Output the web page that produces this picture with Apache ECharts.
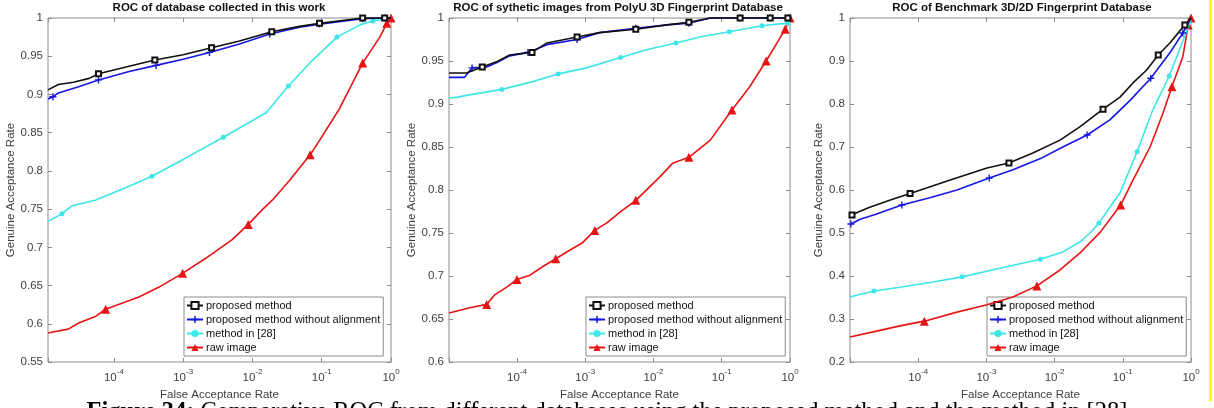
<!DOCTYPE html>
<html>
<head>
<meta charset="utf-8">
<script src="https://cdn.jsdelivr.net/npm/echarts@6/dist/echarts.min.js"></script>
<style>
  html, body { margin: 0; padding: 0; background: #fff; }
  #chart { width: 1214px; height: 408px; }
</style>
</head>
<body>
<div id="chart"></div>
<script>
// ---- data: [FAR, GAR] pairs, plus marker indices ----
var seriesNames = ['proposed method', 'proposed method without alignment', 'method in [28]', 'raw image'];
var panelTitles = [
  'ROC of database collected in this work',
  'ROC of sythetic images from PolyU 3D Fingerprint Database',
  'ROC of Benchmark 3D/2D Fingerprint Database'
];
var xMin = [1.12e-5, 1.01e-5, 1.0e-5];
var yMin = [0.55, 0.6, 0.2];
var yStep = [0.05, 0.05, 0.1];

// panel 1
var p1Proposed = [[1.12e-5,0.906],[1.58e-5,0.913],[2.6e-5,0.916],[4.4e-5,0.921],[6.0e-5,0.927],[1.66e-4,0.937],[3.9e-4,0.945],[1.0e-3,0.952],[2.57e-3,0.961],[6.5e-3,0.970],[0.019,0.982],[0.048,0.989],[0.093,0.993],[0.39,1.0],[0.81,1.0],[1,1]];
var p1ProposedMk = [4,6,8,10,12,13,14];
var p1NoAlign = [[1.12e-5,0.894],[1.32e-5,0.897],[1.58e-5,0.902],[3.1e-5,0.910],[6.0e-5,0.919],[1.66e-4,0.930],[4.07e-4,0.938],[1.0e-3,0.946],[2.4e-3,0.955],[6.5e-3,0.966],[0.0178,0.979],[0.048,0.988],[0.093,0.992],[0.39,0.999],[0.81,1.0],[1,1]];
var p1NoAlignMk = [1,4,6,8,10,12,13,14];
var p1M28 = [[1.12e-5,0.734],[1.78e-5,0.744],[2.45e-5,0.754],[5.5e-5,0.762],[1.66e-4,0.780],[3.55e-4,0.793],[1.0e-3,0.815],[3.8e-3,0.844],[0.0158,0.876],[0.033,0.911],[0.074,0.945],[0.166,0.975],[0.355,0.991],[0.55,0.996],[1,1]];
var p1M28Mk = [1,5,7,9,11,13];
var p1Raw = [[1.12e-5,0.588],[2.2e-5,0.593],[3.1e-5,0.601],[5.5e-5,0.610],[7.6e-5,0.619],[2.3e-4,0.635],[4.5e-4,0.648],[9.8e-4,0.666],[2.14e-3,0.686],[5.1e-3,0.710],[8.7e-3,0.730],[0.0138,0.749],[0.0195,0.762],[0.0347,0.788],[0.068,0.821],[0.093,0.840],[0.182,0.882],[0.39,0.941],[0.69,0.975],[0.87,0.993],[1,1]];
var p1RawMk = [4,7,10,14,17,19,20];

// panel 2
var p2Proposed = [[1.01e-5,0.936],[1.82e-5,0.936],[3.1e-5,0.943],[5.0e-5,0.949],[7.8e-5,0.957],[1.66e-4,0.960],[2.75e-4,0.971],[7.6e-4,0.978],[1.62e-3,0.983],[5.5e-3,0.987],[0.0158,0.992],[0.033,0.995],[0.068,1.0],[0.186,1.0],[0.513,1.0],[0.93,1.0],[1,1]];
var p2ProposedMk = [2,5,7,9,11,13,14,15];
var p2NoAlign = [[1.01e-5,0.931],[1.7e-5,0.931],[2.2e-5,0.942],[3.6e-5,0.943],[5.0e-5,0.948],[7.8e-5,0.956],[1.45e-4,0.960],[2.75e-4,0.969],[7.6e-4,0.975],[1.62e-3,0.983],[5.5e-3,0.988],[0.0158,0.992],[0.033,0.994],[0.068,1.0],[0.186,1.0],[0.513,1.0],[0.93,1.0],[1,1]];
var p2NoAlignMk = [2,6,8,10,12,14,15,16];
var p2M28 = [[1.01e-5,0.907],[1.35e-5,0.908],[1.82e-5,0.910],[6.0e-5,0.917],[1.7e-4,0.926],[4.0e-4,0.935],[1.05e-3,0.942],[3.3e-3,0.954],[7.9e-3,0.963],[0.0214,0.971],[0.048,0.978],[0.129,0.984],[0.39,0.991],[0.93,0.994],[1,0.995]];
var p2M28Mk = [3,5,7,9,11,12,13];
var p2Raw = [[1.01e-5,0.657],[2.04e-5,0.663],[3.6e-5,0.667],[4.7e-5,0.678],[7.1e-5,0.687],[1e-4,0.696],[1.55e-4,0.701],[2.4e-4,0.711],[3.7e-4,0.720],[5.9e-4,0.730],[8.9e-4,0.738],[1.38e-3,0.753],[2.1e-3,0.762],[3.2e-3,0.774],[5.5e-3,0.788],[0.0123,0.815],[0.019,0.831],[0.033,0.838],[0.068,0.858],[0.141,0.893],[0.257,0.920],[0.447,0.950],[0.646,0.971],[0.85,0.987],[1,1]];
var p2RawMk = [2,5,8,11,14,17,19,21,23,24];

// panel 3
var p3Proposed = [[1.0e-5,0.538],[1.07e-5,0.542],[1.32e-5,0.549],[1.95e-5,0.560],[3.9e-5,0.577],[7.6e-5,0.592],[2.95e-4,0.623],[1.02e-3,0.651],[2.14e-3,0.663],[4.8e-3,0.686],[0.012,0.716],[0.0234,0.747],[0.0513,0.788],[0.091,0.816],[0.141,0.849],[0.224,0.879],[0.331,0.914],[0.49,0.942],[0.813,0.984],[1,1]];
var p3ProposedMk = [1,5,8,12,16,18];
var p3NoAlign = [[1.03e-5,0.521],[1.41e-5,0.532],[2.34e-5,0.543],[5.75e-5,0.565],[1.48e-4,0.582],[3.7e-4,0.600],[1.1e-3,0.628],[2.45e-3,0.647],[6.2e-3,0.673],[0.0132,0.700],[0.030,0.728],[0.0646,0.763],[0.129,0.809],[0.257,0.860],[0.49,0.919],[0.759,0.965],[1,1]];
var p3NoAlignMk = [0,3,6,10,13,15];
var p3M28 = [[1.0e-5,0.351],[2.24e-5,0.365],[5.4e-5,0.374],[1.66e-4,0.386],[4.4e-4,0.398],[1.58e-3,0.418],[6.2e-3,0.439],[0.0132,0.456],[0.0234,0.479],[0.033,0.500],[0.0447,0.523],[0.0646,0.560],[0.091,0.593],[0.162,0.689],[0.275,0.786],[0.479,0.865],[0.741,0.942],[1,0.995]];
var p3M28Mk = [1,4,6,10,13,15];
var p3Raw = [[1.0e-5,0.258],[2.19e-5,0.270],[5.4e-5,0.284],[1.23e-4,0.295],[3.7e-4,0.316],[1.02e-3,0.333],[2.45e-3,0.351],[5.5e-3,0.377],[0.012,0.414],[0.0234,0.453],[0.0468,0.502],[0.093,0.565],[0.141,0.623],[0.251,0.700],[0.389,0.779],[0.525,0.840],[0.759,0.910],[0.912,0.984],[1,1]];
var p3RawMk = [3,7,11,15,17,18];

var panels = [
  [[p1Proposed, p1ProposedMk], [p1NoAlign, p1NoAlignMk], [p1M28, p1M28Mk], [p1Raw, p1RawMk]],
  [[p2Proposed, p2ProposedMk], [p2NoAlign, p2NoAlignMk], [p2M28, p2M28Mk], [p2Raw, p2RawMk]],
  [[p3Proposed, p3ProposedMk], [p3NoAlign, p3NoAlignMk], [p3M28, p3M28Mk], [p3Raw, p3RawMk]]
];

// ---- looks ----
var FONT = '"Liberation Sans", Arial, sans-serif';
var SERIF = '"Liberation Serif", "Times New Roman", serif';
var AXC = '#8c8c8c';
var TXC = '#404040';
var gridBox = [
  { left: 48, top: 18, width: 343, height: 344 },
  { left: 449, top: 18, width: 341, height: 344 },
  { left: 850, top: 18, width: 341, height: 344 }
];
var titleX = [219, 618, 1022];
var yNameGap = [25, 24, 19];
var legendPos = [[184, 297], [586, 297], [987, 297]];
var looks = [
  { color: '#111111', symbol: 'emptyRect', size: 5 },
  { color: '#1616e0', symbol: 'path://M4,0H6V4H10V6H6V10H4V6H0V4H4Z', size: 7 },
  { color: '#3ce6e6', symbol: 'circle', size: 5 },
  { color: '#e81414', symbol: 'triangle', size: 9 }
];

function xLabel(v) {
  var l = Math.log(v) / Math.LN10;
  var e = Math.round(l);
  if (Math.abs(l - e) > 1e-6 || e < -4) return '';
  return '{b|10}{s|' + e + '}';
}

var grids = [], xAxes = [], yAxes = [], titles = [], legends = [], series = [];
gridBox.forEach(function (g, i) {
  grids.push({ left: g.left, top: g.top, width: g.width, height: g.height, show: true, borderColor: AXC, borderWidth: 1, backgroundColor: '#fff' });
  titles.push({
    text: panelTitles[i], left: titleX[i], top: 2, textAlign: 'center', padding: 0,
    textStyle: { fontFamily: FONT, fontSize: 11.5, fontWeight: 'bold', color: '#111' }
  });
  legends.push({
    data: seriesNames, orient: 'vertical', left: legendPos[i][0], top: legendPos[i][1],
    itemWidth: 16, itemHeight: 9, itemGap: 1, padding: [2, 3, 2, 2],
    borderColor: AXC, borderWidth: 1, backgroundColor: '#fff', selectedMode: false,
    textStyle: { fontFamily: FONT, fontSize: 11, lineHeight: 13, color: '#111', padding: [0, 0, 0, -2] }
  });
});
// bottom / left axes carry the data, top / right ones only add MATLAB-like ticks
for (var i = 0; i < 3; i++) {
  xAxes.push({
    gridIndex: i, type: 'log', logBase: 10, min: xMin[i], max: 1, position: 'bottom',
    name: 'False Acceptance Rate', nameLocation: 'middle', nameGap: 23,
    nameTextStyle: { fontFamily: FONT, fontSize: 11.5, color: TXC },
    axisLine: { show: false }, splitLine: { show: false },
    axisTick: { inside: true, length: 4, lineStyle: { color: AXC } },
    axisLabel: {
      margin: 6, formatter: xLabel, showMinLabel: true, showMaxLabel: true,
      rich: {
        b: { fontFamily: FONT, fontSize: 11.5, color: TXC, verticalAlign: 'bottom', lineHeight: 16 },
        s: { fontFamily: FONT, fontSize: 8, color: TXC, verticalAlign: 'top', lineHeight: 16 }
      }
    }
  });
  yAxes.push({
    gridIndex: i, type: 'value', min: yMin[i], max: 1, interval: yStep[i], position: 'left',
    name: 'Genuine Acceptance Rate', nameLocation: 'middle', nameGap: yNameGap[i],
    nameTextStyle: { fontFamily: FONT, fontSize: 11.5, color: TXC },
    axisLine: { show: false }, splitLine: { show: false },
    axisTick: { inside: true, length: 4, lineStyle: { color: AXC } },
    axisLabel: {
      margin: 5, fontFamily: FONT, fontSize: 11.5, color: TXC,
      formatter: function (v) { return String(+v.toFixed(2)); }
    }
  });
}
for (var j = 0; j < 3; j++) {
  xAxes.push({
    gridIndex: j, type: 'log', logBase: 10, min: xMin[j], max: 1, position: 'top',
    axisLine: { show: false }, splitLine: { show: false }, axisLabel: { show: false },
    axisTick: { inside: true, length: 4, lineStyle: { color: AXC } }
  });
  yAxes.push({
    gridIndex: j, type: 'value', min: yMin[j], max: 1, interval: yStep[j], position: 'right',
    axisLine: { show: false }, splitLine: { show: false }, axisLabel: { show: false },
    axisTick: { inside: true, length: 4, lineStyle: { color: AXC } }
  });
}

panels.forEach(function (curves, gi) {
  curves.forEach(function (c, k) {
    var pts = c[0], marks = c[1], lk = looks[k];
    series.push({
      name: seriesNames[k], type: 'line', xAxisIndex: gi, yAxisIndex: gi,
      symbol: lk.symbol, symbolSize: lk.size, showAllSymbol: true, clip: false,
      lineStyle: { color: lk.color, width: 1.6 },
      itemStyle: { color: lk.color, borderColor: lk.color, borderWidth: lk.symbol === 'emptyRect' ? 1.2 : 0 },
      emphasis: { disabled: true }, animation: false, z: 10 - k,
      data: pts.map(function (p, n) {
        return { value: p, symbol: marks.indexOf(n) >= 0 ? lk.symbol : 'none' };
      })
    });
  });
});

var chart = echarts.init(document.getElementById('chart'), null, { renderer: 'canvas' });
chart.setOption({
  animation: false,
  backgroundColor: '#fff',
  title: titles,
  legend: legends,
  grid: grids,
  xAxis: xAxes,
  yAxis: yAxes,
  series: series,
  graphic: [
    { type: 'rect', left: 1209, top: 0, shape: { width: 3, height: 401 }, style: { fill: '#ffff00' }, silent: true },
    {
      type: 'text', left: 'center', top: 400, silent: true,
      style: {
        text: '{b|Figure 34:} Comparative ROC from different databases using the proposed method and the method in [28]',
        fontFamily: SERIF, fontSize: 24.5, fill: '#000',
        rich: { b: { fontFamily: SERIF, fontSize: 24.5, fontWeight: 'bold', fill: '#000' } }
      }
    }
  ]
});
</script>
</body>
</html>
